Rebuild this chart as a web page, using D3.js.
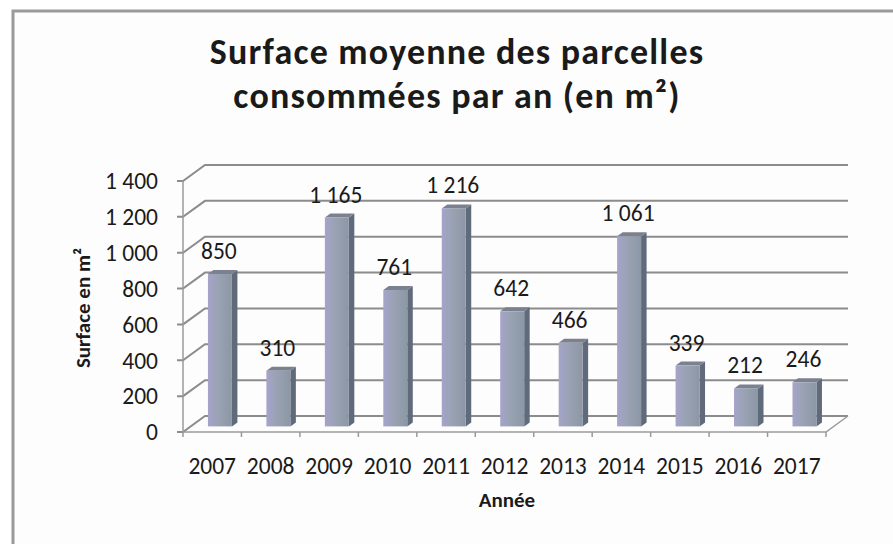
<!DOCTYPE html>
<html>
<head>
<meta charset="utf-8">
<script src="https://cdn.jsdelivr.net/npm/d3@7"></script>
<style>
  body { margin: 0; background: #fff; }
  text { font-family: Carlito, Calibri, Lato, sans-serif; fill: #1a1a1a; }
</style>
</head>
<body>
<div id="chart"></div>
<script>
// data
const years = ["2007", "2008", "2009", "2010", "2011", "2012", "2013", "2014", "2015", "2016", "2017"];
const surfaces = [850, 310, 1165, 761, 1216, 642, 466, 1061, 339, 212, 246];
const yTicks = [0, 200, 400, 600, 800, 1000, 1200, 1400];
const titleLines = ["Surface moyenne des parcelles", "consommées par an (en m²)"];
const yTitle = "Surface en m²";
const xTitle = "Année";

const width = 893, height = 544;
// 3D wall offset (front plane -> back plane)
const DX = 22, DY = 16;
const barZ0 = 0.35, barZ1 = 0.6;

const svg = d3.select("#chart").append("svg")
    .attr("width", width)
    .attr("height", height);

const defs = svg.append("defs");
const grad = defs.append("linearGradient").attr("id", "barFront");
grad.append("stop").attr("offset", "0%").attr("stop-color", "#a5a3ca");
grad.append("stop").attr("offset", "28%").attr("stop-color", "#9ea3bc");
grad.append("stop").attr("offset", "45%").attr("stop-color", "#99a2b2");
grad.append("stop").attr("offset", "100%").attr("stop-color", "#8c97a6");

// chart frame
svg.append("rect")
    .attr("x", 13).attr("y", 11)
    .attr("width", width + 20).attr("height", height + 20)
    .attr("fill", "#fdfdfd")
    .attr("stroke", "#9a9a9a")
    .attr("stroke-width", 3);

const x = d3.scaleBand()
    .domain(years)
    .range([183, 826])
    .paddingInner(0.59)
    .paddingOuter(0.295);

const y = d3.scaleLinear()
    .domain([0, 1400])
    .range([432, 181]);

const fmt = d3.formatLocale({ decimal: ",", thousands: " ", grouping: [3], currency: ["", "€"] }).format(",d");

// project a point from the front plane to depth z (0 = front, 1 = back)
const proj = (px, py, z) => [px + z * DX, py - z * DY];

// gridlines: tick, side wall diagonal, back wall line
const grid = svg.append("g");
yTicks.forEach(t => {
    const yy = y(t);
    const back = proj(183, yy, 1);
    grid.append("path")
        .attr("d", `M177,${yy}L183,${yy}L${back[0]},${back[1]}L${826 + DX},${back[1]}`)
        .attr("fill", "none")
        .attr("stroke", "#8c8c8c")
        .attr("stroke-width", 2);
});

// floor edges and y axis line
const fr = proj(826, y(0), 1);
grid.append("path")
    .attr("d", `M183,${y(0)}L826,${y(0)}L${fr[0]},${fr[1]}`)
    .attr("fill", "none")
    .attr("stroke", "#9a9a9a")
    .attr("stroke-width", 1.5);
grid.append("line")
    .attr("x1", 183).attr("x2", 183)
    .attr("y1", y(1400)).attr("y2", y(0))
    .attr("stroke", "#9a9a9a")
    .attr("stroke-width", 1.5);

// x ticks at category boundaries
const step = x.step();
d3.range(years.length + 1).forEach(i => {
    const xx = 183 + i * step;
    grid.append("line")
        .attr("x1", xx).attr("x2", xx)
        .attr("y1", y(0)).attr("y2", y(0) + 5)
        .attr("stroke", "#9a9a9a")
        .attr("stroke-width", 1.5);
});

// y tick labels
svg.append("g").selectAll("text")
    .data(yTicks)
    .join("text")
    .attr("x", 158)
    .attr("y", d => y(d))
    .attr("dy", "0.35em")
    .attr("text-anchor", "end")
    .attr("font-size", 23.5)
    .text(d => fmt(d));

// bars
const bars = svg.append("g").selectAll("g")
    .data(years.map((yr, i) => ({ year: yr, value: surfaces[i] })))
    .join("g");

bars.each(function(d) {
    const g = d3.select(this);
    const x0 = x(d.year), x1 = x(d.year) + x.bandwidth();
    const yb = y(0), yt = y(d.value);
    const a = proj(x0, yt, barZ0), b = proj(x1, yt, barZ0);
    const c = proj(x1, yb, barZ0);
    const bt = proj(x1, yt, barZ1), at = proj(x0, yt, barZ1);
    const cb = proj(x1, yb, barZ1);
    g.append("polygon")
        .attr("points", [b, bt, cb, c].map(p => p.join(",")).join(" "))
        .attr("fill", "#5f6a7b");
    g.append("polygon")
        .attr("points", [a, at, bt, b].map(p => p.join(",")).join(" "))
        .attr("fill", "#7c818f");
    g.append("rect")
        .attr("x", a[0]).attr("y", a[1])
        .attr("width", b[0] - a[0])
        .attr("height", c[1] - a[1])
        .attr("fill", "url(#barFront)");
    g.append("text")
        .attr("x", (a[0] + b[0]) / 2 - 1)
        .attr("y", a[1] - 15)
        .attr("text-anchor", "middle")
        .attr("font-size", 23.5)
        .text(fmt(d.value));
});

// x tick labels
svg.append("g").selectAll("text")
    .data(years)
    .join("text")
    .attr("x", d => x(d) + x.bandwidth() / 2)
    .attr("y", 474)
    .attr("text-anchor", "middle")
    .attr("font-size", 23.5)
    .text(d => d);

// titles, one text per line
svg.append("g").selectAll("text")
    .data(titleLines)
    .join("text")
    .attr("x", 457)
    .attr("y", (d, i) => 64 + i * 44)
    .attr("text-anchor", "middle")
    .attr("font-size", 36)
    .attr("font-weight", "bold")
    .attr("letter-spacing", 1.2)
    .text(d => d);

svg.append("text")
    .attr("transform", "translate(90,308) rotate(-90)")
    .attr("text-anchor", "middle")
    .attr("font-size", 21)
    .attr("font-weight", "bold")
    .text(yTitle);

svg.append("text")
    .attr("x", 507).attr("y", 507)
    .attr("text-anchor", "middle")
    .attr("font-size", 21)
    .attr("font-weight", "bold")
    .text(xTitle);
</script>
</body>
</html>
